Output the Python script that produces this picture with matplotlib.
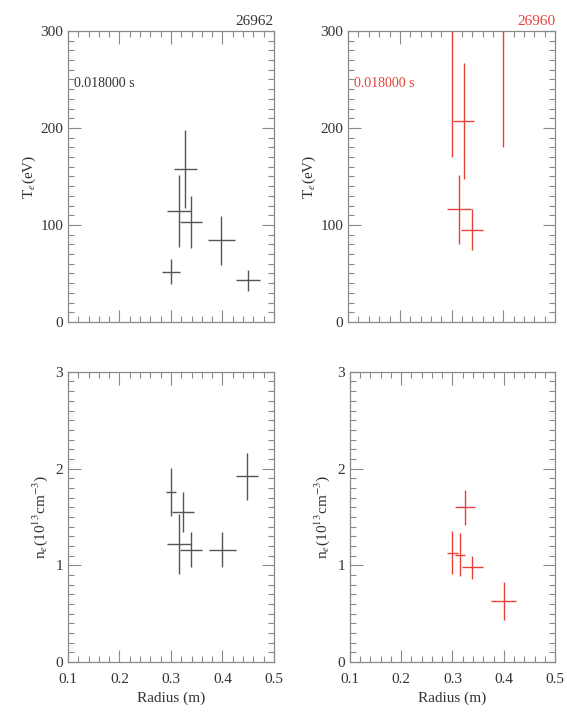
import matplotlib
matplotlib.use("Agg")
import matplotlib.pyplot as plt
from matplotlib.ticker import MultipleLocator, FormatStrFormatter

plt.rcParams['font.family'] = ['Liberation Serif', 'DejaVu Serif']
plt.rcParams['mathtext.fontset'] = 'stix'

# shot 26962 (black) and 26960 (red), t = 0.018 s
te_a_r = [0.300, 0.315, 0.328, 0.339, 0.398, 0.450]
te_a_rerr = [0.018, 0.023, 0.022, 0.021, 0.026, 0.023]
te_a = [52, 114, 158, 103, 84, 43]
te_a_err = [13, 37, 40, 27, 25, 11]

te_b_r = [0.300, 0.323, 0.315, 0.339, 0.400]
te_b_rerr = [0.018, 0.021, 0.023, 0.021, 0.024]
te_b = [310, 207, 116, 95, 340]
te_b_err = [140, 60, 36, 21, 160]

ne_a_r = [0.300, 0.324, 0.315, 0.339, 0.400, 0.448]
ne_a_rerr = [0.010, 0.021, 0.023, 0.021, 0.026, 0.021]
ne_a = [1.76, 1.55, 1.22, 1.16, 1.16, 1.92]
ne_a_err = [0.25, 0.21, 0.31, 0.18, 0.18, 0.24]

ne_b_r = [0.300, 0.314, 0.324, 0.339, 0.400]
ne_b_rerr = [0.010, 0.010, 0.020, 0.021, 0.024]
ne_b = [1.13, 1.11, 1.60, 0.98, 0.63]
ne_b_err = [0.22, 0.22, 0.18, 0.12, 0.20]

AXCOL = '#8a8a8a'
TXTCOL = '#333333'
BLK = '#555555'
RED = '#e8403a'


def style_axes(ax, ymax, ymajor, yminor, show_x):
    ax.set_xlim(0.1, 0.5)
    ax.set_ylim(0, ymax)
    ax.xaxis.set_major_locator(MultipleLocator(0.1))
    ax.xaxis.set_minor_locator(MultipleLocator(0.02))
    ax.xaxis.set_major_formatter(FormatStrFormatter('%.1f'))
    ax.yaxis.set_major_locator(MultipleLocator(ymajor))
    ax.yaxis.set_minor_locator(MultipleLocator(yminor))
    ax.tick_params(which='both', direction='in', top=True, right=True,
                   color=AXCOL, labelcolor=TXTCOL, labelsize=11, width=0.8)
    ax.tick_params(which='major', length=9)
    ax.tick_params(which='minor', length=4)
    ax.tick_params(axis='x', pad=8)
    for s in ax.spines.values():
        s.set_color(AXCOL)
        s.set_linewidth(0.9)
    if show_x:
        ax.set_xlabel('Radius (m)', color=TXTCOL, fontsize=11, labelpad=4)
    else:
        ax.tick_params(labelbottom=False)


fig = plt.figure(figsize=(5.67, 7.15), dpi=100)
ax1 = fig.add_axes([0.120, 0.5497, 0.363, 0.407])
ax2 = fig.add_axes([0.614, 0.5497, 0.365, 0.407])
ax3 = fig.add_axes([0.120, 0.074, 0.363, 0.406])
ax4 = fig.add_axes([0.617, 0.074, 0.362, 0.406])

ax1.errorbar(te_a_r, te_a, xerr=te_a_rerr, yerr=te_a_err, fmt='none',
             ecolor=BLK, elinewidth=1.0, capsize=0)
ax2.errorbar(te_b_r, te_b, xerr=te_b_rerr, yerr=te_b_err, fmt='none',
             ecolor=RED, elinewidth=1.0, capsize=0)
ax3.errorbar(ne_a_r, ne_a, xerr=ne_a_rerr, yerr=ne_a_err, fmt='none',
             ecolor=BLK, elinewidth=1.0, capsize=0)
ax4.errorbar(ne_b_r, ne_b, xerr=ne_b_rerr, yerr=ne_b_err, fmt='none',
             ecolor=RED, elinewidth=1.0, capsize=0)

for ax in (ax1, ax2):
    style_axes(ax, 300, 100, 10, False)
    ax.set_ylabel(r'T$_e$(eV)', color=TXTCOL, fontsize=11, labelpad=2)
for ax in (ax3, ax4):
    style_axes(ax, 3, 1, 0.1, True)
    ax.set_ylabel(r'n$_e$(10$^{13}$cm$^{-3}$)', color=TXTCOL, fontsize=11,
                  labelpad=4)

ax1.text(0.03, 0.82, '0.018000 s', transform=ax1.transAxes, color=TXTCOL,
         fontsize=10, va='center')
ax2.text(0.03, 0.82, '0.018000 s', transform=ax2.transAxes, color=RED,
         fontsize=10, va='center')
ax1.text(1.0, 1.01, '26962', transform=ax1.transAxes, color=TXTCOL,
         fontsize=11, ha='right', va='bottom')
ax2.text(1.0, 1.01, '26960', transform=ax2.transAxes, color=RED,
         fontsize=11, ha='right', va='bottom')

fig.savefig('out.png', dpi=100)
